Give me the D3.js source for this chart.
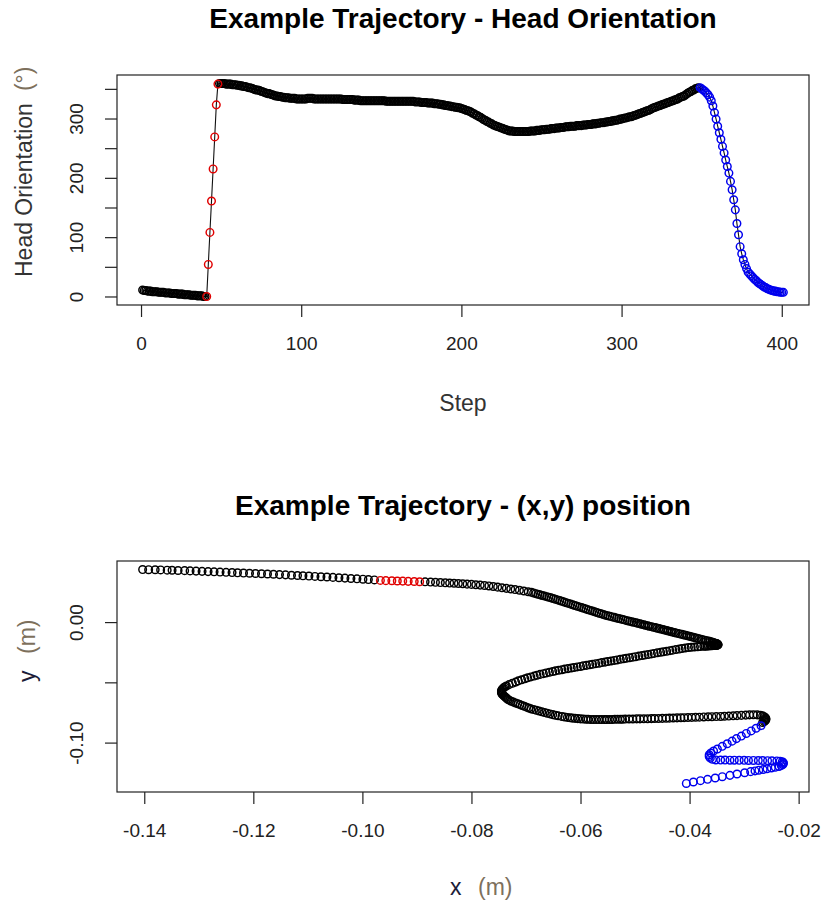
<!DOCTYPE html>
<html>
<head>
<meta charset="utf-8">
<script src="https://cdn.jsdelivr.net/npm/d3@7"></script>
<style>
  body { margin: 0; background: #fff; }
  text { font-family: Arial, "Liberation Sans", sans-serif; }
</style>
</head>
<body>
<svg id="chart" width="828" height="905"></svg>
<script>
// head orientation (degrees), one value per step 1..401
var heading = [
  11,10,10,9,9,9,8,8,8,8, 7,7,7,7,6,6,6,6,5,5, 5,5,4,4,4,4,3,3,3,3, 2,2,2,2,1,1,1,1,0,0,      // 1-40
  0,54,108,161,215,269,323,358,                                                          // 41-48
  359,359,359,359,358,358,358,358,357,357,357,356,356,355,355,                           // 49-63
  354,354,353,352,352,351,350,349,348,348, 347,346,345,344,343,342,342,341,340,339,
  338,338,337,337,336,336,335,335,335,334, 334,334,334,333,333,333,333,333,              // 64-101
  333,333,334,334,334,334,333,333,333,333,333,333,333,333,333,333,                       // 102-117
  333,333,333,333,333,333,333,333,332,332,332,332,332,332,332,331,331,331,331,           // 118-136
  330,330,330,330,330,330,330,330,330,330,330,330,330,330,330,330,
  329,329,329,329,329,329,329,329,329,329,329,329,329,329,329,329,329,                   // 137-169
  329,328,328,328,328,327,327,327,327,326,326,326,326,325,325,325,324,                   // 170-186
  324,323,323,322,322,321,321,320,320,319,319,318,318,317,316,315,314,313,312,           // 187-205
  311,309,308,306,305,303,302,300,298,297,                                               // 206-215
  295,294,292,291,289,288,287,286,285,284,283,282,281,280,279,                           // 216-230
  279,279,278,278,278,278,278,278,278,278,278,278,279,279,279,279,280,                   // 231-247
  280,280,281,281,281,282,282,282,283,283,283,284,284,284,285,285,285,286,286,286,
  287,287,287,287,288,288,                                                               // 248-273
  288,288,289,289,289,290,290,290,291,291,291,292,292,293,293,293,294,294,295,295,
  296,296,297,297,298,                                                                   // 274-298
  299,299,300,301,301,302,303,303,304,305,306,                                           // 299-309
  307,308,309,310,311,312,313,314,315,317,                                               // 310-319
  318,319,320,321,322,323,324,325,326,327,328,                                           // 320-330
  329,330,331,332,333,335,336,337,338,340,                                               // 331-340
  342,344,345,347,348,350,351,352,                                                       // 341-348
  352,350,348,346,343,340,336,330,321,310, 299,287,276,265,253,242,230,219,208,194,
  180,163,146,123,104,84,72,62,54,47, 41,38,35,32,29,27,24,22,20,18,
  16,15,13,12,11,10,9,9,8,8, 7,7,7                                                       // 349-401
];

// x position (m), one value per step
var posX = [
  -0.1403,-0.1392,-0.1380,-0.1370,-0.1358,-0.1349,-0.1338,-0.1326,-0.1316,-0.1305,
  -0.1294,-0.1283,-0.1272,-0.1261,-0.1250,-0.1239,-0.1229,-0.1218,-0.1207,-0.1196,
  -0.1185,-0.1174,-0.1163,-0.1152,-0.1141,-0.1130,-0.1119,-0.1109,-0.1098,-0.1087,
  -0.1076,-0.1065,-0.1054,-0.1043,-0.1032,-0.1021,-0.1010,-0.0999,-0.0989,-0.0978,
  -0.0967,-0.0957,-0.0946,-0.0936,-0.0926,-0.0916,-0.0905,-0.0895,
  -0.0885,-0.0875,-0.0866,-0.0857,-0.0848,-0.0840,-0.0832,-0.0824,-0.0816,-0.0808,
  -0.0800,-0.0792,-0.0784,-0.0776,-0.0768,-0.0760,-0.0752,-0.0744,-0.0736,-0.0728,
  -0.0720,-0.0712,-0.0704,-0.0696,
  -0.0690,-0.0686,-0.0682,-0.0678,-0.0674,-0.0670,-0.0666,-0.0662,-0.0658,-0.0654,
  -0.0650,-0.0646,-0.0642,-0.0638,-0.0634,-0.0630,-0.0626,-0.0622,-0.0618,-0.0614,
  -0.0610,-0.0606,-0.0602,-0.0598,-0.0594,-0.0590,-0.0586,-0.0582,-0.0578,-0.0574,
  -0.0570,-0.0566,-0.0562,-0.0558,-0.0554,-0.0550,-0.0546,-0.0542,-0.0538,-0.0534,
  -0.0530,-0.0526,-0.0522,-0.0518,-0.0514,-0.0510,-0.0506,-0.0502,
  -0.0498,-0.0495,-0.0491,-0.0488,-0.0484,-0.0481,-0.0477,-0.0474,-0.0470,-0.0467,
  -0.0463,-0.0460,-0.0456,-0.0453,-0.0449,-0.0446,-0.0442,-0.0439,-0.0435,-0.0432,
  -0.0428,-0.0425,-0.0421,-0.0418,-0.0414,-0.0411,-0.0407,-0.0404,-0.0400,-0.0397,
  -0.0393,-0.0390,-0.0386,-0.0383,-0.0379,-0.0376,-0.0372,-0.0369,-0.0365,-0.0362,
  -0.0359,-0.0357,-0.0355,-0.0353,-0.0351,-0.0350,-0.0349,-0.0348,-0.0348,-0.0348,
  -0.0349,-0.0350,-0.0352,-0.0354,-0.0356,-0.0359,-0.0362,-0.0365,-0.0368,-0.0371,
  -0.0374,-0.0380,-0.0385,-0.0391,-0.0397,-0.0402,-0.0408,-0.0414,-0.0419,-0.0425,
  -0.0431,-0.0436,-0.0442,-0.0448,-0.0453,-0.0459,-0.0465,-0.0470,-0.0476,-0.0482,
  -0.0487,-0.0493,-0.0499,-0.0504,-0.0510,-0.0516,-0.0521,-0.0527,-0.0533,-0.0538,
  -0.0544,-0.0550,-0.0555,-0.0561,-0.0566,-0.0572,-0.0578,-0.0583,-0.0589,-0.0595,
  -0.0600,-0.0606,-0.0612,-0.0617,-0.0623,-0.0629,-0.0634,-0.0640,-0.0646,-0.0651,
  -0.0657,-0.0663,-0.0668,-0.0674,-0.0680,-0.0685,-0.0691,-0.0697,-0.0702,-0.0708,
  -0.0714,-0.0719,-0.0725,-0.0731,-0.0736,
  -0.0739,-0.0741,-0.0743,-0.0744,-0.0745,-0.0745,-0.0745,-0.0744,-0.0743,-0.0741,
  -0.0739,-0.0737,-0.0735,-0.0733,-0.0730,-0.0727,-0.0723,-0.0719,-0.0715,-0.0711,
  -0.0707,-0.0703,-0.0699,-0.0695,-0.0691,-0.0686,-0.0681,-0.0676,-0.0671,-0.0666,
  -0.0661,-0.0656,-0.0651,-0.0646,-0.0641,
  -0.0634,-0.0629,-0.0624,-0.0619,-0.0615,-0.0610,-0.0605,-0.0600,-0.0595,-0.0590,
  -0.0586,-0.0581,-0.0576,-0.0571,-0.0566,-0.0561,-0.0556,-0.0552,-0.0547,-0.0542,
  -0.0537,-0.0532,-0.0527,-0.0523,-0.0518,
  -0.0511,-0.0504,-0.0497,-0.0491,-0.0484,-0.0477,-0.0470,-0.0464,-0.0457,-0.0450,
  -0.0443,-0.0437,-0.0430,-0.0423,-0.0416,-0.0410,-0.0403,-0.0396,-0.0389,-0.0382,
  -0.0374,-0.0366,-0.0359,-0.0351,-0.0343,-0.0336,-0.0328,-0.0320,-0.0313,-0.0305,
  -0.0297,-0.0290,-0.0283,-0.0276,-0.0270,
  -0.0266,-0.0263,-0.0261,-0.0260,-0.0260,-0.0261,-0.0263,-0.0266,
  -0.0269,-0.0278,-0.0287,-0.0296,-0.0305,-0.0314,-0.0322,-0.0331,-0.0340,-0.0349,
  -0.0356,-0.0361,-0.0364,-0.0364,-0.0362,-0.0358,
  -0.0352,-0.0343,-0.0335,-0.0326,-0.0318,-0.0309,-0.0300,-0.0292,-0.0283,-0.0274,
  -0.0266,-0.0257,-0.0249,-0.0240,
  -0.0234,-0.0230,-0.0228,-0.0228,-0.0229,-0.0232,
  -0.0236,-0.0243,-0.0250,-0.0258,-0.0265,-0.0273,-0.0280,-0.0288,-0.0299,-0.0313,
  -0.0326,-0.0340,-0.0353,-0.0367,-0.0380,-0.0393,-0.0406
];

// y position (m), one value per step
var posY = [
  0.0436,0.0435,0.0434,0.0433,0.0431,0.0430,0.0428,0.0427,0.0425,0.0423,
  0.0421,0.0419,0.0417,0.0415,0.0413,0.0411,0.0409,0.0407,0.0405,0.0403,
  0.0401,0.0399,0.0397,0.0394,0.0392,0.0389,0.0387,0.0384,0.0382,0.0379,
  0.0376,0.0374,0.0371,0.0368,0.0365,0.0362,0.0359,0.0356,0.0353,0.0350,
  0.0346,0.0344,0.0343,0.0341,0.0340,0.0338,0.0337,0.0335,
  0.0334,0.0332,0.0330,0.0328,0.0326,0.0324,0.0322,0.0320,0.0318,0.0315,
  0.0313,0.0310,0.0307,0.0304,0.0300,0.0295,0.0290,0.0285,0.0280,0.0275,
  0.0270,0.0264,0.0258,0.0252,
  0.0247,0.0242,0.0236,0.0231,0.0226,0.0221,0.0216,0.0211,0.0206,0.0201,
  0.0196,0.0190,0.0184,0.0178,0.0173,0.0167,0.0161,0.0155,0.0149,0.0143,
  0.0138,0.0132,0.0126,0.0120,0.0115,0.0109,0.0103,0.0097,0.0092,0.0086,
  0.0080,0.0074,0.0069,0.0063,0.0057,0.0052,0.0048,0.0043,0.0039,0.0034,
  0.0030,0.0025,0.0021,0.0016,0.0011,0.0007,0.0002,-0.0002,
  -0.0006,-0.0010,-0.0014,-0.0018,-0.0022,-0.0026,-0.0030,-0.0034,-0.0038,-0.0042,
  -0.0046,-0.0050,-0.0054,-0.0058,-0.0062,-0.0066,-0.0070,-0.0074,-0.0078,-0.0082,
  -0.0086,-0.0090,-0.0094,-0.0098,-0.0102,-0.0106,-0.0110,-0.0114,-0.0118,-0.0122,
  -0.0126,-0.0130,-0.0134,-0.0138,-0.0142,-0.0146,-0.0150,-0.0154,-0.0158,-0.0162,
  -0.0166,-0.0169,-0.0172,-0.0175,-0.0178,-0.0180,-0.0183,-0.0185,-0.0187,-0.0189,
  -0.0191,-0.0192,-0.0193,-0.0194,-0.0195,-0.0196,-0.0197,-0.0198,-0.0199,-0.0200,
  -0.0201,-0.0203,-0.0205,-0.0207,-0.0209,-0.0211,-0.0215,-0.0219,-0.0224,-0.0228,
  -0.0233,-0.0237,-0.0242,-0.0246,-0.0251,-0.0255,-0.0260,-0.0264,-0.0269,-0.0273,
  -0.0278,-0.0282,-0.0287,-0.0291,-0.0296,-0.0300,-0.0305,-0.0309,-0.0314,-0.0318,
  -0.0323,-0.0327,-0.0332,-0.0336,-0.0341,-0.0345,-0.0350,-0.0354,-0.0359,-0.0363,
  -0.0368,-0.0372,-0.0377,-0.0381,-0.0386,-0.0390,-0.0395,-0.0400,-0.0405,-0.0410,
  -0.0416,-0.0422,-0.0428,-0.0434,-0.0441,-0.0448,-0.0455,-0.0462,-0.0470,-0.0479,
  -0.0488,-0.0498,-0.0508,-0.0519,-0.0530,
  -0.0538,-0.0546,-0.0554,-0.0562,-0.0570,-0.0578,-0.0586,-0.0594,-0.0602,-0.0610,
  -0.0618,-0.0626,-0.0634,-0.0642,-0.0650,-0.0657,-0.0664,-0.0671,-0.0678,-0.0685,
  -0.0692,-0.0699,-0.0706,-0.0713,-0.0720,-0.0726,-0.0732,-0.0738,-0.0744,-0.0750,
  -0.0756,-0.0762,-0.0768,-0.0773,-0.0778,
  -0.0784,-0.0788,-0.0791,-0.0794,-0.0797,-0.0799,-0.0801,-0.0803,-0.0805,-0.0806,
  -0.0807,-0.0808,-0.0809,-0.0809,-0.0809,-0.0809,-0.0809,-0.0808,-0.0808,-0.0808,
  -0.0807,-0.0807,-0.0806,-0.0806,-0.0805,
  -0.0804,-0.0804,-0.0803,-0.0803,-0.0802,-0.0802,-0.0801,-0.0800,-0.0800,-0.0799,
  -0.0798,-0.0797,-0.0796,-0.0795,-0.0794,-0.0793,-0.0792,-0.0791,-0.0790,-0.0789,
  -0.0787,-0.0786,-0.0785,-0.0784,-0.0783,-0.0781,-0.0780,-0.0778,-0.0776,-0.0774,
  -0.0772,-0.0770,-0.0769,-0.0770,-0.0773,
  -0.0778,-0.0785,-0.0793,-0.0801,-0.0809,-0.0817,-0.0825,-0.0833,
  -0.0860,-0.0881,-0.0903,-0.0924,-0.0946,-0.0967,-0.0988,-0.1010,-0.1031,-0.1053,
  -0.1070,-0.1086,-0.1101,-0.1116,-0.1129,-0.1139,
  -0.1144,-0.1145,-0.1145,-0.1146,-0.1146,-0.1147,-0.1147,-0.1148,-0.1148,-0.1149,
  -0.1149,-0.1150,-0.1151,-0.1152,
  -0.1154,-0.1159,-0.1166,-0.1174,-0.1182,-0.1190,
  -0.1198,-0.1205,-0.1211,-0.1217,-0.1223,-0.1229,-0.1235,-0.1241,-0.1250,-0.1261,
  -0.1272,-0.1283,-0.1294,-0.1305,-0.1316,-0.1327,-0.1339
];

// highlighted step ranges
var redSteps = [41, 48];
var blueSteps = [349, 401];

// ticks
var stepTicks = [0, 100, 200, 300, 400];
var headTicks = [0, 50, 100, 150, 200, 250, 300, 350];
var headTickLabels = [0, 100, 200, 300];
var posXTicks = [-0.14, -0.12, -0.10, -0.08, -0.06, -0.04, -0.02];
var posYTicks = [-0.10, -0.05, 0.00];
var posYTickLabels = [-0.10, 0.00];

var svg = d3.select("#chart");

var plotLeft = 117, plotRight = 809;
var top1 = 75, bottom1 = 305;
var top2 = 561, bottom2 = 792;

// R style axis range: data range widened by 4% on each side
function padded(ext) {
  var p = (ext[1] - ext[0]) * 0.04;
  return [ext[0] - p, ext[1] + p];
}

var points = heading.map(function(h, i) {
  return { step: i + 1, head: h, x: posX[i], y: posY[i] };
});

function colorOf(d) {
  if (d.step >= redSteps[0] && d.step <= redSteps[1]) return "#e00000";
  if (d.step >= blueSteps[0] && d.step <= blueSteps[1]) return "#0000ee";
  return "#000";
}

var plain = points.filter(d => colorOf(d) == "#000"),
    colored = points.filter(d => colorOf(d) != "#000");

var xStep = d3.scaleLinear().domain(padded([1, heading.length])).range([plotLeft, plotRight]);
var yHead = d3.scaleLinear().domain(padded(d3.extent(heading))).range([bottom1, top1]);
var xPos = d3.scaleLinear().domain(padded(d3.extent(posX))).range([plotLeft, plotRight]);
var yPos = d3.scaleLinear().domain(padded(d3.extent(posY))).range([bottom2, top2]);

var fmt2 = d => d3.format(".2f")(d).replace("\u2212", "-");

function styleAxis(g) {
  g.select(".domain").remove();
  g.selectAll(".tick line").attr("stroke", "#222").attr("stroke-width", 1.2);
  g.selectAll(".tick text")
      .attr("fill", "#222")
      .style("font-size", "19px");
}

function bottomAxis(scale, ticks, y, fmt) {
  var g = svg.append("g")
      .attr("transform", "translate(0," + y + ")")
      .call(d3.axisBottom(scale).tickValues(ticks).tickSize(12).tickFormat(fmt));
  styleAxis(g);
  g.selectAll(".tick text").attr("y", 45).attr("dy", null);
}

function leftAxis(scale, ticks, fmt) {
  var g = svg.append("g")
      .attr("transform", "translate(" + plotLeft + ",0)")
      .call(d3.axisLeft(scale).tickValues(ticks).tickSize(12).tickFormat(fmt));
  styleAxis(g);
  g.selectAll(".tick text")
      .attr("x", 0)
      .attr("dy", null)
      .attr("text-anchor", "middle")
      .attr("transform", "translate(-34,0) rotate(-90)");
}

function box(y0, y1) {
  svg.append("rect")
      .attr("x", plotLeft)
      .attr("y", y0)
      .attr("width", plotRight - plotLeft)
      .attr("height", y1 - y0)
      .attr("fill", "none")
      .attr("stroke", "#222")
      .attr("stroke-width", 1.2);
}

function drawCircles(g, data, xs, ys, xKey, yKey) {
  g.selectAll("circle")
      .data(data)
    .enter().append("circle")
      .attr("cx", d => xs(d[xKey]))
      .attr("cy", d => ys(d[yKey]))
      .attr("r", 3.8)
      .attr("fill", "none")
      .attr("stroke", colorOf)
      .attr("stroke-width", 1.45);
}

// ---- top panel: head orientation by step
svg.append("text")
    .attr("x", (plotLeft + plotRight) / 2)
    .attr("y", 28)
    .attr("text-anchor", "middle")
    .style("font-size", "28px")
    .style("font-weight", "bold")
    .text("Example Trajectory - Head Orientation");

var line = d3.line()
    .x(d => xStep(d.step))
    .y(d => yHead(d.head));

svg.append("path")
    .datum(points)
    .attr("d", line)
    .attr("fill", "none")
    .attr("stroke", "#111")
    .attr("stroke-width", 1.1);

drawCircles(svg.append("g"), plain, xStep, yHead, "step", "head");
drawCircles(svg.append("g"), colored, xStep, yHead, "step", "head");

box(top1, bottom1);
bottomAxis(xStep, stepTicks, bottom1, d3.format("d"));
leftAxis(yHead, headTicks, d => headTickLabels.includes(d) ? d : "");

svg.append("text")
    .attr("x", (plotLeft + plotRight) / 2)
    .attr("y", 411)
    .attr("text-anchor", "middle")
    .attr("fill", "#333")
    .style("font-size", "23px")
    .text("Step");

var headLabel = svg.append("text")
    .attr("transform", "translate(32,277) rotate(-90)")
    .attr("fill", "#333")
    .style("font-size", "23px");
headLabel.append("tspan").text("Head Orientation");
headLabel.append("tspan").attr("dx", 12).attr("fill", "#7d705c").text("(\u00b0)");

// ---- bottom panel: (x,y) position
svg.append("text")
    .attr("x", (plotLeft + plotRight) / 2)
    .attr("y", 515)
    .attr("text-anchor", "middle")
    .style("font-size", "28px")
    .style("font-weight", "bold")
    .text("Example Trajectory - (x,y) position");

drawCircles(svg.append("g"), plain, xPos, yPos, "x", "y");
drawCircles(svg.append("g"), colored, xPos, yPos, "x", "y");

box(top2, bottom2);
bottomAxis(xPos, posXTicks, bottom2, fmt2);
leftAxis(yPos, posYTicks, d => posYTickLabels.some(v => Math.abs(v - d) < 1e-9) ? fmt2(d) : "");

svg.append("text")
    .attr("x", 450)
    .attr("y", 895)
    .attr("fill", "#1c1c38")
    .style("font-size", "23px")
    .text("x");
svg.append("text")
    .attr("x", 478)
    .attr("y", 895)
    .attr("fill", "#7d705c")
    .style("font-size", "23px")
    .text("(m)");

svg.append("text")
    .attr("transform", "translate(35,682) rotate(-90)")
    .attr("fill", "#1c1c38")
    .style("font-size", "23px")
    .text("y");
svg.append("text")
    .attr("transform", "translate(35,654) rotate(-90)")
    .attr("fill", "#7d705c")
    .style("font-size", "23px")
    .text("(m)");
</script>
</body>
</html>
